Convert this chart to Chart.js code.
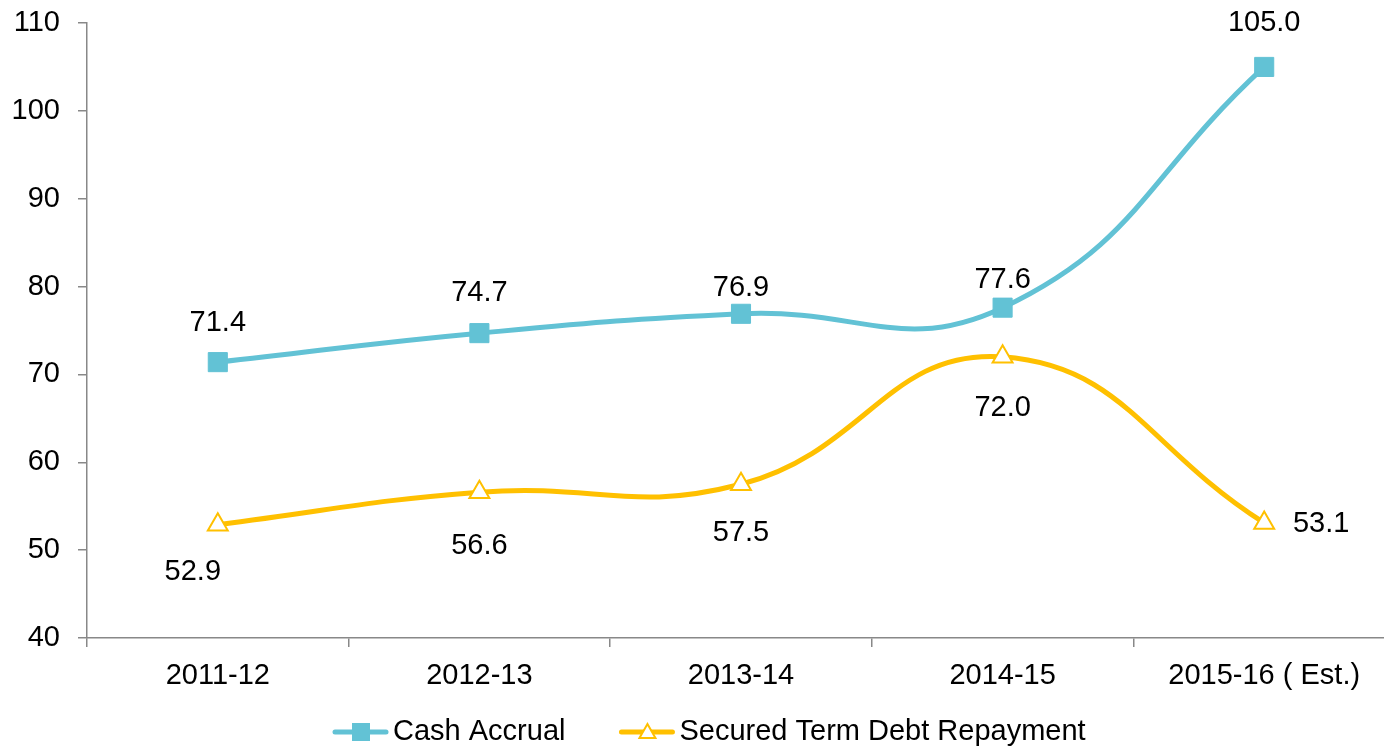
<!DOCTYPE html>
<html>
<head>
<meta charset="utf-8">
<script src="https://cdn.jsdelivr.net/npm/chart.js@4/dist/chart.umd.min.js"></script>
<style>
  html, body { margin: 0; padding: 0; background: #fff; overflow: hidden; width: 1384px; height: 749px; }
  #wrap { width: 1395px; height: 749px; }
</style>
</head>
<body>
<div id="wrap"><canvas id="grafico" width="1395" height="749"></canvas></div>
<script>
const categorias = ['2011-12', '2012-13', '2013-14', '2014-15', '2015-16 ( Est.)'];
const cashAccrual = [71.4, 74.7, 76.9, 77.6, 105.0];
const debtRepayment = [52.9, 56.6, 57.5, 72.0, 53.1];
const yTicks = [40, 50, 60, 70, 80, 90, 100, 110];

const fonte = "'Liberation Sans', Arial, sans-serif";
const ciano = '#62C2D5';
const amarelo = '#FFC000';
const cinza = '#888888';

// posição dos rótulos em relação ao ponto (dx, dy)
const offsetsRotulos = [
    [[0, -39], [0, -40], [0, -26], [0, -28], [0, -44]],
    [[-25, 47], [0, 54], [0, 49], [0, 51], [57, 1]]
];

const rotulosPlugin = {
    id: 'rotulos',
    afterDatasetsDraw(chart) {
        const ctx = chart.ctx;
        ctx.save();
        ctx.font = '29px ' + fonte;
        ctx.fillStyle = '#000';
        ctx.textAlign = 'center';
        ctx.textBaseline = 'middle';
        chart.data.datasets.forEach((ds, i) => {
            chart.getDatasetMeta(i).data.forEach((pt, j) => {
                const off = offsetsRotulos[i][j];
                ctx.fillText(ds.data[j].toFixed(1), pt.x + off[0], pt.y + off[1]);
            });
        });
        ctx.restore();
    },
    afterDraw(chart) {
        // legenda no estilo linha + marcador
        const ctx = chart.ctx;
        ctx.save();
        ctx.font = '29px ' + fonte;
        ctx.textBaseline = 'middle';
        let x = 333;
        const y = 732;
        chart.data.datasets.forEach((ds, i) => {
            ctx.strokeStyle = ds.borderColor;
            ctx.lineWidth = 5;
            ctx.lineCap = 'round';
            ctx.beginPath();
            ctx.moveTo(x + 2, y);
            ctx.lineTo(x + 53, y);
            ctx.stroke();
            const cx = x + 28;
            if (i === 0) {
                ctx.fillStyle = ds.borderColor;
                ctx.fillRect(cx - 9, y - 9, 18, 18);
            } else {
                ctx.fillStyle = '#fff';
                ctx.strokeStyle = ds.borderColor;
                ctx.lineWidth = 2;
                ctx.lineJoin = 'miter';
                ctx.beginPath();
                ctx.moveTo(cx, y - 8);
                ctx.lineTo(cx + 8, y + 6);
                ctx.lineTo(cx - 8, y + 6);
                ctx.closePath();
                ctx.fill();
                ctx.stroke();
            }
            ctx.fillStyle = '#000';
            ctx.textAlign = 'left';
            ctx.fillText(ds.label, x + 60, y);
            x += 60 + ctx.measureText(ds.label).width + 54;
        });
        ctx.restore();
    }
};

new Chart(document.getElementById('grafico').getContext('2d'), {
    type: 'line',
    data: {
        labels: categorias,
        datasets: [{
            label: 'Cash Accrual',
            data: cashAccrual,
            borderColor: ciano,
            backgroundColor: ciano,
            borderWidth: 5,
            tension: 0.45,
            pointStyle: 'rect',
            pointRadius: 13.5,
            pointBorderWidth: 1,
            pointBackgroundColor: ciano,
            pointBorderColor: ciano
        }, {
            label: 'Secured Term Debt Repayment',
            data: debtRepayment,
            borderColor: amarelo,
            backgroundColor: amarelo,
            borderWidth: 5,
            tension: 0.45,
            pointStyle: 'triangle',
            pointRadius: 11.5,
            pointBorderWidth: 2,
            pointBackgroundColor: '#fff',
            pointBorderColor: amarelo
        }]
    },
    options: {
        responsive: false,
        animation: false,
        layout: { autoPadding: false, padding: { top: 23, bottom: 51, left: 0, right: 0 } },
        plugins: {
            legend: { display: false },
            tooltip: { enabled: false }
        },
        scales: {
            x: {
                offset: true,
                grid: {
                    offset: true,
                    drawOnChartArea: false,
                    color: cinza,
                    tickLength: 9,
                    lineWidth: 1.5
                },
                border: { color: cinza, width: 1.5 },
                ticks: {
                    color: '#000',
                    font: { family: fonte, size: 29 },
                    padding: 12,
                    maxRotation: 0,
                    autoSkip: false
                },
                afterFit(scale) {
                    scale.height = 60;
                    scale.paddingLeft = 0;
                    scale.paddingRight = 0;
                }
            },
            y: {
                min: 40,
                max: 110,
                afterBuildTicks(scale) { scale.ticks = yTicks.map(v => ({ value: v })); },
                grid: {
                    drawOnChartArea: false,
                    color: cinza,
                    tickLength: 9,
                    lineWidth: 1.5
                },
                border: { color: cinza, width: 1.5 },
                ticks: {
                    color: '#000',
                    font: { family: fonte, size: 29 },
                    padding: 18
                },
                afterFit(scale) {
                    scale.width = 87;
                    scale.paddingTop = 0;
                    scale.paddingBottom = 0;
                }
            }
        }
    },
    plugins: [rotulosPlugin]
});
</script>
</body>
</html>
